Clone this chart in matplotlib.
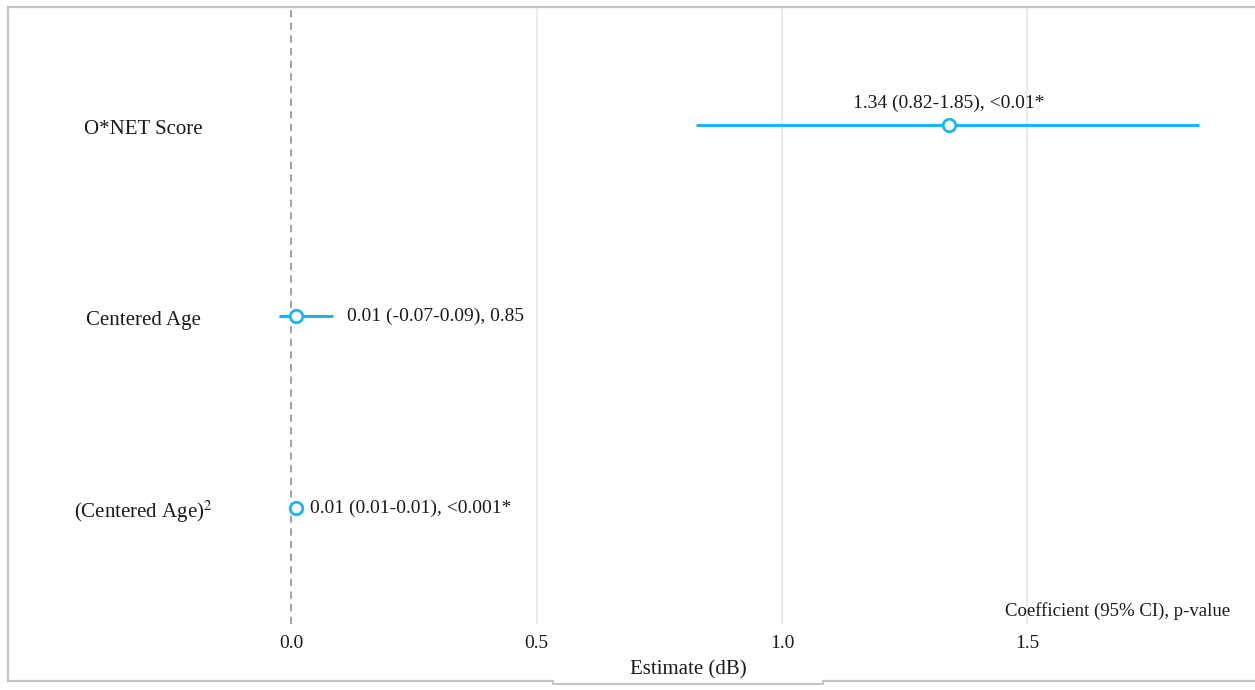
import matplotlib
matplotlib.use("Agg")
import matplotlib.pyplot as plt
import matplotlib.transforms as mtrans
from matplotlib.lines import Line2D

plt.rcParams['font.family'] = ['Liberation Serif', 'DejaVu Serif']
plt.rcParams['mathtext.fontset'] = 'stix'

# Data (coefficient, drawn CI, label)
terms = ["O*NET Score", "Centered Age", "(Centered Age)$^{2}$"]
estimates = [1.34, 0.01, 0.01]
ci_low = [0.825, -0.025, 0.01]
ci_high = [1.85, 0.085, 0.01]
labels = ["1.34 (0.82-1.85), <0.01*",
          "0.01 (-0.07-0.09), 0.85",
          "0.01 (0.01-0.01), <0.001*"]
ypos = [3, 2, 1]
xticks = [0.0, 0.5, 1.0, 1.5]

W, H = 1255, 690
fig = plt.figure(figsize=(W / 100, H / 100), dpi=100)
txt = '#1a1a1a'

# axes placed in pixel terms
left_px, right_px, top_px, bot_px = 240, 1245, 8, 624
ax = fig.add_axes([left_px / W, 1 - bot_px / H, (right_px - left_px) / W, (bot_px - top_px) / H])
ax.set_xlim(-0.1039, 1.943)
ax.set_ylim(0.394, 3.611)

blue = '#1cb5f4'
for v in xticks[1:]:
    ax.axvline(v, color='#e6e6e6', lw=1.2, zorder=0)
ax.axvline(0, color='#999999', lw=1.3, ls=(0, (4, 3)), zorder=1)

for i, (y, est, lo, hi, lab) in enumerate(zip(ypos, estimates, ci_low, ci_high, labels)):
    ax.plot([lo, hi], [y, y], color=blue, lw=2.2, zorder=2, solid_capstyle='butt')
    ax.plot(est, y, 'o', ms=9, mfc='white', mec=blue, mew=2, zorder=3)
    if i == 0:
        ax.annotate(lab, (est, y), xytext=(0, 9), textcoords='offset points',
                    ha='center', va='bottom', fontsize=14, color=txt)
    else:
        ax.annotate(lab, (hi, y), xytext=(10, 0), textcoords='offset points',
                    ha='left', va='center', fontsize=14, color=txt)

ax.set_xticks(xticks)
ax.set_xticklabels([f"{v:.1f}" for v in xticks], fontsize=14, color=txt)
ax.tick_params(axis='x', length=0, pad=8)
ax.set_yticks([])
for s in ax.spines.values():
    s.set_visible(False)

# row labels, centered in the left margin
trans = mtrans.blended_transform_factory(fig.transFigure, ax.transData)
for y, t in zip(ypos, terms):
    ax.annotate(t, (143 / W, y), xycoords=trans, xytext=(0, -3), textcoords='offset points',
                ha='center', va='center', fontsize=15, color=txt)

fig.text(688 / W, 1 - 670 / H, "Estimate (dB)", ha='center', va='center', fontsize=15, color=txt)
fig.text(1230 / W, 1 - 611 / H, "Coefficient (95% CI), p-value", ha='right', va='center',
         fontsize=13.5, color=txt)

# outer frame
def fline(xs, ys):
    fig.add_artist(Line2D([x / W for x in xs], [1 - y / H for y in ys],
                          transform=fig.transFigure, color='#c4c4c4', lw=1.6))

fline([8, 8], [7, 681])
fline([8, 1255], [7, 7])
fline([8, 553, 553, 823, 823, 1255], [681, 681, 684, 684, 681, 681])

fig.savefig("out.png", dpi=100, facecolor='white')
